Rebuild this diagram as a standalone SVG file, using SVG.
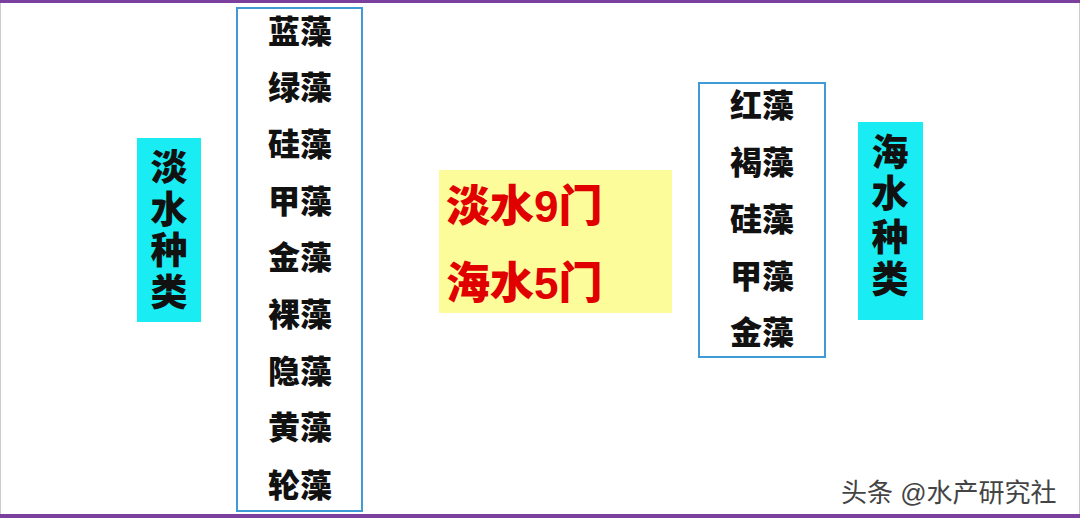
<svg xmlns="http://www.w3.org/2000/svg" width="1080" height="518" viewBox="0 0 1080 518">
<style>
.bg{fill:#ffffff}
.list{fill:#ffffff;stroke:#3f9ad6;stroke-width:2}
.tag{fill:#19ecf2}
.note{fill:#fdfc9a}
.item{font-family:"Liberation Sans","Noto Sans CJK SC",sans-serif;font-weight:900;font-size:32px;fill:#111111;text-anchor:middle}
.vt{font-family:"Liberation Sans","Noto Sans CJK SC",sans-serif;font-weight:900;font-size:37px;fill:#111111;text-anchor:middle}
.red{font-family:"Liberation Sans","Noto Sans CJK SC",sans-serif;font-weight:900;font-size:44px;fill:#e00000}
.wm{font-family:"Liberation Sans","Noto Sans CJK SC",sans-serif;font-size:26px;fill:#444444}
.bar{fill:#7b3f9e}
</style>
<rect class="bg" x="0" y="0" width="1080" height="518"/>
<rect class="bar" x="0" y="0" width="1080" height="3"/>
<rect class="bar" x="0" y="514" width="1080" height="4"/>
<line x1="0.5" y1="3" x2="0.5" y2="514" stroke="#cccccc" stroke-width="1"/>
<line x1="1079.5" y1="3" x2="1079.5" y2="514" stroke="#cccccc" stroke-width="1"/>

<g id="freshwater-label">
<rect class="tag" x="137" y="138" width="64" height="184"/>
<text class="vt" x="169" y="181">淡</text>
<text class="vt" x="169" y="223">水</text>
<text class="vt" x="169" y="264">种</text>
<text class="vt" x="169" y="306">类</text>
</g>

<g id="freshwater-list">
<rect class="list" x="237" y="8" width="125" height="503"/>
<text class="item" x="300" y="43">蓝藻</text>
<text class="item" x="300" y="99">绿藻</text>
<text class="item" x="300" y="156">硅藻</text>
<text class="item" x="300" y="213">甲藻</text>
<text class="item" x="300" y="269">金藻</text>
<text class="item" x="300" y="326">裸藻</text>
<text class="item" x="300" y="383">隐藻</text>
<text class="item" x="300" y="439">黄藻</text>
<text class="item" x="300" y="497">轮藻</text>
</g>

<g id="summary">
<rect class="note" x="439" y="170" width="233" height="143"/>
<text class="red" x="446" y="222">淡水9门</text>
<text class="red" x="446" y="299">海水5门</text>
</g>

<g id="marine-list">
<rect class="list" x="699" y="83" width="126" height="274"/>
<text class="item" x="762" y="117">红藻</text>
<text class="item" x="762" y="174">褐藻</text>
<text class="item" x="762" y="231">硅藻</text>
<text class="item" x="762" y="288">甲藻</text>
<text class="item" x="762" y="344">金藻</text>
</g>

<g id="marine-label">
<rect class="tag" x="858" y="122" width="65" height="198"/>
<text class="vt" x="890" y="166">海</text>
<text class="vt" x="890" y="207">水</text>
<text class="vt" x="890" y="251">种</text>
<text class="vt" x="890" y="293">类</text>
</g>

<g id="connectors"></g>

<text class="wm" x="841" y="502">头条 @水产研究社</text>
</svg>
